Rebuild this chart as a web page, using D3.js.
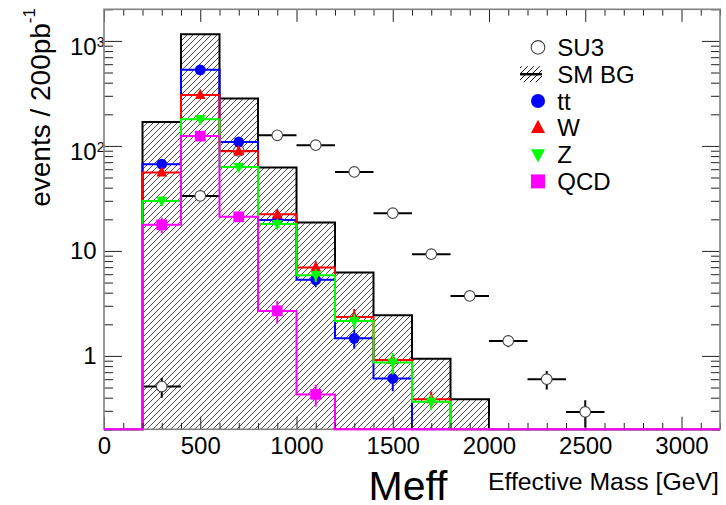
<!DOCTYPE html>
<html>
<head>
<meta charset="utf-8">
<script src="https://cdn.jsdelivr.net/npm/d3@7"></script>
<style>
  html, body { margin: 0; padding: 0; background: #fff; }
  svg { display: block; font-family: "Liberation Sans", Arial, Helvetica, sans-serif; }
</style>
</head>
<body>
<svg id="chart" width="726" height="505"></svg>
<script>
// bins of 200 GeV from 0 to 3200
const binCenters = [100, 300, 500, 700, 900, 1100, 1300, 1500, 1700, 1900, 2100, 2300, 2500, 2700, 2900, 3100];

// SM background total (hatched)
const smbg = [0, 169, 1158, 283, 62.3, 18.6, 6.23, 2.44, 0.94, 0.387, 0, 0, 0, 0, 0, 0];

// SU3 signal points + errors
const su3    = [0, 0.51, 33.4, 89.6, 126, 101.6, 56.5, 22.9, 9.3, 3.73, 1.39, 0.60, 0.293, 0, 0, 0];
const su3Err = [0, 0.11, 0.9, 1.5, 1.7, 1.6, 1.2, 0.75, 0.47, 0.3, 0.18, 0.12, 0.085, 0, 0, 0];

// background components
const ttbar    = [0, 67, 530, 109, 19.7, 5.3, 1.47, 0.61, 0, 0, 0, 0, 0, 0, 0, 0];
const ttbarErr = [0, 3, 9, 4, 1.8, 0.8, 0.3, 0.15, 0, 0, 0, 0, 0, 0, 0, 0];
const wjets    = [0, 55.8, 306, 89, 22.3, 6.95, 2.35, 0.916, 0.387, 0, 0, 0, 0, 0, 0, 0];
const wjetsErr = [0, 4, 10, 6, 2.5, 1.0, 0.45, 0.1, 0.07, 0, 0, 0, 0, 0, 0, 0];
const zjets    = [0, 29.9, 179.6, 63, 18.0, 5.87, 2.15, 0.865, 0.365, 0, 0, 0, 0, 0, 0, 0];
const zjetsErr = [0, 3, 8, 4, 2, 0.8, 0.35, 0.2, 0.06, 0, 0, 0, 0, 0, 0, 0];
const qcd      = [0, 17.7, 124, 21.1, 2.68, 0.43, 0, 0, 0, 0, 0, 0, 0, 0, 0, 0];
const qcdErr   = [0, 3, 10, 2, 0.65, 0.1, 0, 0, 0, 0, 0, 0, 0, 0, 0, 0];

const xTicks = [0, 500, 1000, 1500, 2000, 2500, 3000];
const yTicks = [1, 10, 100, 1000];
const yTickLabels = [{ base: "1" }, { base: "10" }, { base: "10", exp: "2" }, { base: "10", exp: "3" }];

const legendNames = ["SU3", "SM BG", "tt", "W", "Z", "QCD"];

(function () {
const d3 = window.d3;
const svg = d3.select("#chart");

const pL = 104, pR = 720, pT = 9.3, pB = 429.3;
const binW = 200;

const x = d3.scaleLinear().domain([0, 3200]).range([pL, pR]);
const y = d3.scaleLog().domain([0.2, 2000]).range([pB, pT]);
const yv = v => (v > 0 ? y(v) : pB);

// hatch pattern
const defs = svg.append("defs");
const pat = defs.append("pattern")
  .attr("id", "hatch")
  .attr("patternUnits", "userSpaceOnUse")
  .attr("width", 6).attr("height", 6);
pat.append("path")
  .attr("d", "M-1,1 l2,-2 M0,6 l6,-6 M5,7 l2,-2")
  .attr("stroke", "#3a3a3a").attr("stroke-width", 0.9);

const legPat = defs.append("pattern")
  .attr("id", "hatchLeg")
  .attr("patternUnits", "userSpaceOnUse")
  .attr("width", 6).attr("height", 6);
legPat.append("path")
  .attr("d", "M-1,1 l2,-2 M0,6 l6,-6 M5,7 l2,-2")
  .attr("stroke", "#111").attr("stroke-width", 1);

defs.append("clipPath").attr("id", "clipPlot")
  .append("rect")
  .attr("x", pL).attr("y", pT)
  .attr("width", pR - pL).attr("height", pB - pT + 1.5);

defs.append("clipPath").attr("id", "clipBottom")
  .append("rect")
  .attr("x", pL).attr("y", pB - 1.5)
  .attr("width", pR - pL).attr("height", 3);

const gPlot = svg.append("g").attr("clip-path", "url(#clipPlot)");

// step data: one point per bin edge
function stepData(vals) {
  const pts = binCenters.map((c, i) => ({ e: c - binW / 2, v: vals[i] }));
  pts.push({ e: binCenters[binCenters.length - 1] + binW / 2, v: vals[vals.length - 1] });
  return pts;
}

const stepLine = d3.line()
  .x(d => x(d.e))
  .y(d => yv(d.v))
  .curve(d3.curveStepAfter);

const stepArea = d3.area()
  .x(d => x(d.e))
  .y0(pB)
  .y1(d => yv(d.v))
  .curve(d3.curveStepAfter);

// SM BG hatched histogram
gPlot.append("path")
  .attr("d", stepArea(stepData(smbg)))
  .attr("fill", "url(#hatch)");
gPlot.append("path")
  .attr("d", stepLine(stepData(smbg)))
  .attr("fill", "none")
  .attr("stroke", "#000")
  .attr("stroke-width", 2);

// SU3 points
const su3Pts = binCenters.map((c, i) => ({ c, v: su3[i], e: su3Err[i] })).filter(d => d.v > 0);
const gSu3 = gPlot.append("g");
gSu3.selectAll("line.xerr")
  .data(su3Pts).enter().append("line")
  .attr("class", "xerr")
  .attr("x1", d => x(d.c - binW / 2)).attr("x2", d => x(d.c + binW / 2))
  .attr("y1", d => y(d.v)).attr("y2", d => y(d.v))
  .attr("stroke", "#000").attr("stroke-width", 2);
gSu3.selectAll("line.yerr")
  .data(su3Pts).enter().append("line")
  .attr("class", "yerr")
  .attr("x1", d => x(d.c)).attr("x2", d => x(d.c))
  .attr("y1", d => y(d.v + d.e)).attr("y2", d => yv(d.v - d.e))
  .attr("stroke", "#000").attr("stroke-width", 2);
gSu3.selectAll("circle")
  .data(su3Pts).enter().append("circle")
  .attr("cx", d => x(d.c)).attr("cy", d => y(d.v))
  .attr("r", 5.3)
  .attr("fill", "#fff").attr("stroke", "#444").attr("stroke-width", 1.1);

// components
const comps = [
  { name: "tt",  vals: ttbar, errs: ttbarErr, color: "#0000ff", shape: "circle" },
  { name: "W",   vals: wjets, errs: wjetsErr, color: "#ff0000", shape: "up" },
  { name: "Z",   vals: zjets, errs: zjetsErr, color: "#00ff00", shape: "down" },
  { name: "QCD", vals: qcd,   errs: qcdErr,   color: "#ff00ff", shape: "square" }
];

function markerPath(shape, s) {
  if (shape === "circle") return d3.symbol(d3.symbolCircle, Math.PI * (s / 2) * (s / 2))();
  if (shape === "square") return d3.symbol(d3.symbolSquare, s * s)();
  const h = s * 0.95, w = s / 2;
  if (shape === "up") return `M0,${-h * 0.6}L${w},${h * 0.4}L${-w},${h * 0.4}Z`;
  return `M0,${h * 0.6}L${w},${-h * 0.4}L${-w},${-h * 0.4}Z`;
}

comps.forEach(c => {
  gPlot.append("path")
    .attr("d", stepLine(stepData(c.vals)))
    .attr("fill", "none")
    .attr("stroke", c.color)
    .attr("stroke-width", 2);

  const pts = binCenters.map((b, i) => ({ b, v: c.vals[i], e: c.errs[i] })).filter(d => d.v > 0);
  const g = gPlot.append("g");
  g.selectAll("line")
    .data(pts).enter().append("line")
    .attr("x1", d => x(d.b)).attr("x2", d => x(d.b))
    .attr("y1", d => y(d.v + d.e)).attr("y2", d => yv(d.v - d.e))
    .attr("stroke", c.color).attr("stroke-width", 2);
  g.selectAll("path")
    .data(pts).enter().append("path")
    .attr("transform", d => `translate(${x(d.b)},${y(d.v)})`)
    .attr("d", markerPath(c.shape, 10.8))
    .attr("fill", c.color);
});

// axes (ROOT style: ticks inside, on all four sides)
const tickColor = "#222";
function styleAxis(g) {
  g.select(".domain").remove();
  g.selectAll(".tick line").attr("stroke", tickColor).attr("stroke-width", 1);
}

const xMinor = d3.range(0, 3201, 100).filter(v => v % 500 !== 0);
const yMinor = [];
[0.1, 1, 10, 100, 1000].forEach(dec => {
  for (let k = 2; k <= 9; k++) {
    const v = dec * k;
    if (v >= 0.2 && v <= 2000) yMinor.push(v);
  }
});

// bottom
const gxB = svg.append("g")
  .attr("transform", `translate(0,${pB})`)
  .call(d3.axisBottom(x).tickValues(xTicks).tickSizeInner(-12.6).tickSizeOuter(0).tickPadding(8).tickFormat(d3.format("d")))
  .call(styleAxis);
gxB.attr("font-size", null).attr("font-family", null);
gxB.selectAll("text").attr("font-size", 24).attr("fill", "#000");
svg.append("g")
  .attr("transform", `translate(0,${pB})`)
  .call(d3.axisBottom(x).tickValues(xMinor).tickSizeInner(-6.3).tickSizeOuter(0).tickFormat(""))
  .call(styleAxis);

// top
svg.append("g")
  .attr("transform", `translate(0,${pT})`)
  .call(d3.axisTop(x).tickValues(xTicks).tickSizeInner(-12.6).tickSizeOuter(0).tickFormat(""))
  .call(styleAxis);
svg.append("g")
  .attr("transform", `translate(0,${pT})`)
  .call(d3.axisTop(x).tickValues(xMinor).tickSizeInner(-6.3).tickSizeOuter(0).tickFormat(""))
  .call(styleAxis);

// left
const gyL = svg.append("g")
  .attr("transform", `translate(${pL},0)`)
  .call(d3.axisLeft(y).tickValues(yTicks).tickSizeInner(-18).tickSizeOuter(0).tickPadding(7.3).tickFormat(""))
  .call(styleAxis);
gyL.attr("font-size", null).attr("font-family", null);
gyL.selectAll(".tick text").each(function (d, i) {
  const t = d3.select(this);
  const lab = yTickLabels[i];
  t.attr("font-size", 24).attr("fill", "#000");
  const base = t.append("tspan").text(lab.base);
  if (lab.exp) {
    const len = base.node().getComputedTextLength();
    t.attr("text-anchor", "start").attr("x", -7.3 - len).attr("dy", 14);
    t.append("tspan").attr("font-size", 14).attr("dy", -8.3).text(lab.exp);
  }
});
svg.append("g")
  .attr("transform", `translate(${pL},0)`)
  .call(d3.axisLeft(y).tickValues(yMinor).tickSizeInner(-9).tickSizeOuter(0).tickFormat(""))
  .call(styleAxis);

// right
svg.append("g")
  .attr("transform", `translate(${pR},0)`)
  .call(d3.axisRight(y).tickValues(yTicks).tickSizeInner(-18).tickSizeOuter(0).tickFormat(""))
  .call(styleAxis);
svg.append("g")
  .attr("transform", `translate(${pR},0)`)
  .call(d3.axisRight(y).tickValues(yMinor).tickSizeInner(-9).tickSizeOuter(0).tickFormat(""))
  .call(styleAxis);

// frame
svg.append("rect")
  .attr("x", pL).attr("y", pT)
  .attr("width", pR - pL).attr("height", pB - pT)
  .attr("fill", "none")
  .attr("stroke", "#808080")
  .attr("stroke-width", 1.6);

// QCD along the bottom edge is drawn over the frame (ROOT draws it last)
svg.append("path")
  .attr("d", stepLine(stepData(qcd)))
  .attr("fill", "none")
  .attr("stroke", "#ff00ff")
  .attr("stroke-width", 2)
  .attr("clip-path", "url(#clipBottom)");

// titles
const yTitle = svg.append("text")
  .attr("transform", "translate(50,8) rotate(-90)")
  .attr("text-anchor", "end")
  .attr("font-size", 28)
  .attr("fill", "#000");
yTitle.append("tspan").text("events / 200pb");
yTitle.append("tspan").attr("font-size", 17).attr("dy", -15).text("-1");

svg.append("text")
  .attr("x", 408).attr("y", 500)
  .attr("text-anchor", "middle")
  .attr("font-size", 41)
  .attr("fill", "#000")
  .text("Meff");

svg.append("text")
  .attr("x", 719).attr("y", 490)
  .attr("text-anchor", "end")
  .attr("font-size", 24.8)
  .attr("fill", "#000")
  .text("Effective Mass [GeV]");

// legend
const legX = 538, legTextX = 557.3, legY0 = 56, legDy = 26.8;
const legend = svg.append("g");
legendNames.forEach((name, i) => {
  const base = legY0 + i * legDy;
  const cy = base - 8.6;
  const g = legend.append("g");
  if (name === "SU3") {
    g.append("circle").attr("cx", legX).attr("cy", cy).attr("r", 6.8)
      .attr("fill", "#fff").attr("stroke", "#444").attr("stroke-width", 1.1);
  } else if (name === "SM BG") {
    g.append("rect").attr("x", legX - 18).attr("y", cy - 8).attr("width", 22).attr("height", 16)
      .attr("fill", "url(#hatchLeg)");
    g.append("line").attr("x1", legX - 18).attr("x2", legX + 4).attr("y1", cy).attr("y2", cy)
      .attr("stroke", "#000").attr("stroke-width", 2.5);
  } else {
    const c = comps.find(k => k.name === name);
    g.append("path").attr("transform", `translate(${legX},${cy})`)
      .attr("d", markerPath(c.shape, 14)).attr("fill", c.color);
  }
  g.append("text").attr("x", legTextX).attr("y", base)
    .attr("font-size", 24).attr("fill", "#000").text(name);
});
})();
</script>
</body>
</html>
